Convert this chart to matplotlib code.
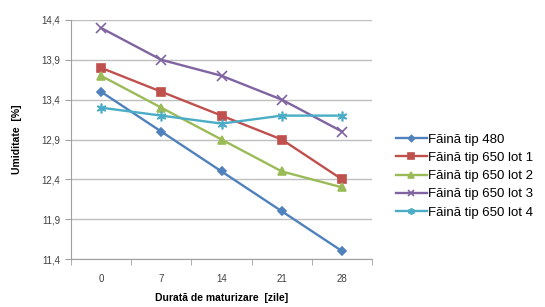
import matplotlib
matplotlib.use("Agg")
import matplotlib.pyplot as plt
from matplotlib.ticker import FixedLocator, FuncFormatter

plt.rcParams['font.family'] = ['Liberation Sans', 'DejaVu Sans']

days = ["0", "7", "14", "21", "28"]
series_names = ["Făină tip 480", "Făină tip 650 lot 1", "Făină tip 650 lot 2",
                "Făină tip 650 lot 3", "Făină tip 650 lot 4"]
tip480 = [13.5, 13.0, 12.5, 12.0, 11.5]
lot1 = [13.8, 13.5, 13.2, 12.9, 12.4]
lot2 = [13.7, 13.3, 12.9, 12.5, 12.3]
lot3 = [14.3, 13.9, 13.7, 13.4, 13.0]
lot4 = [13.3, 13.2, 13.1, 13.2, 13.2]
yticks = [11.4, 11.9, 12.4, 12.9, 13.4, 13.9, 14.4]

colors = ["#4F81BD", "#C0504D", "#9BBB59", "#8064A2", "#4BACC6"]
markers = ["D", "s", "^", "x", (6, 2, 0)]
msizes = [4.5, 6, 6, 7, 7]

fig = plt.figure(figsize=(5.45, 3.07), dpi=100)
ax = fig.add_axes([0.130, 0.156, 0.553, 0.779])

x = list(range(len(days)))
for vals, name, c, m, ms in zip([tip480, lot1, lot2, lot3, lot4], series_names, colors, markers, msizes):
    ax.plot(x, vals, color=c, marker=m, markersize=ms, linewidth=1.7, label=name,
            markeredgewidth=1.2)

ax.set_xlim(-0.5, 4.5)
ax.set_ylim(11.4, 14.4)
ax.set_yticks(yticks)
ax.yaxis.set_major_formatter(FuncFormatter(lambda v, p: f"{v:.1f}".replace(".", ",")))
ax.set_xticks(x)
ax.set_xticklabels(days)
ax.xaxis.set_minor_locator(FixedLocator([i - 0.5 for i in range(6)]))
ax.tick_params(axis='x', which='major', length=0, labelsize=7, colors='#404040', pad=11)
ax.tick_params(axis='x', which='minor', length=4, color='#A0A0A0')
ax.tick_params(axis='y', length=4, color='#A0A0A0', labelsize=7, labelcolor='#404040')
ax.grid(axis='y', color='#BFBFBF', linewidth=1)
ax.set_axisbelow(True)
for s in ['top', 'right']:
    ax.spines[s].set_visible(False)
for s in ['left', 'bottom']:
    ax.spines[s].set_color('#A0A0A0')

ax.set_xlabel("Durată de maturizare  [zile]", fontsize=7.5, fontweight='bold', labelpad=6)
ax.set_ylabel("Umiditate  [%]", fontsize=7.5, fontweight='bold', labelpad=14)

leg = ax.legend(loc='center left', bbox_to_anchor=(1.04, 0.347), frameon=False,
                fontsize=9.5, handlelength=2.3, handletextpad=0.1, labelspacing=0.45,
                markerscale=0.7)

fig.savefig("out.png", dpi=100)
